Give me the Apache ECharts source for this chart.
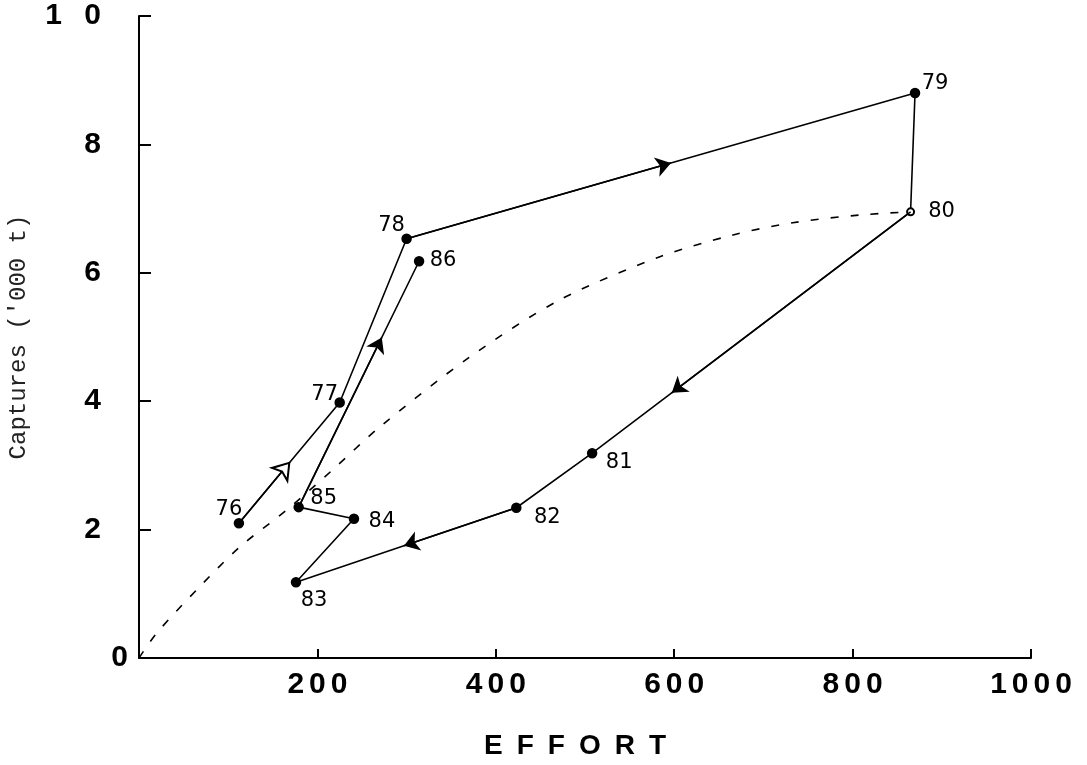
<!DOCTYPE html>
<html lang="en">
<head>
    <meta charset="UTF-8">
    <title>Captures vs Effort</title>
    <script src="https://cdn.jsdelivr.net/npm/echarts@6/dist/echarts.min.js"></script>
    <style>
        html, body { margin: 0; padding: 0; background: #fff; }
        #chart { width: 1087px; height: 765px; }
    </style>
</head>
<body>
    <div id="chart"></div>
    <script>
        // years, effort and captures ('000 t)
        var years = ['76', '77', '78', '79', '80', '81', '82', '83', '84', '85', '86'];
        var effort = [112, 225, 300, 870, 865, 508, 423, 176, 241, 179, 314];
        var captures = [2.10, 3.98, 6.53, 8.80, 6.95, 3.19, 2.34, 1.18, 2.17, 2.35, 6.18];

        // dashed equilibrium curve
        var curveEffort = [0, 20, 68, 113, 166, 217, 270, 371, 472, 584, 666, 733, 808, 865];
        var curveCaptures = [0, 0.39, 1.11, 1.73, 2.31, 2.93, 3.60, 4.69, 5.58, 6.25, 6.59, 6.78, 6.90, 6.95];

        // arrows: segment start index, fraction along the segment where the tip sits
        var arrowFrom = [0, 2, 4, 6, 9];
        var arrowAt = [0.5, 0.52, 0.75, 0.51, 0.69];

        var xTicks = [0, 200, 400, 600, 800, 1000];
        var yTicks = [0, 2, 4, 6, 8, 10];

        // label offsets (px) for each year tag
        var labelOffset = {
            '76': [-10, -14], '77': [-15, -8], '78': [-15, -13], '79': [20, -9],
            '80': [31, 0], '81': [27, 9], '82': [31, 10], '83': [18, 18],
            '84': [28, 3], '85': [25, -9], '86': [24, -1]
        };

        var labelFont = { fontFamily: 'DejaVu Sans', fontSize: 21, color: '#000' };

        var pts = years.map(function (y, i) {
            return {
                value: [effort[i], captures[i]],
                symbol: y === '80' ? 'emptyCircle' : 'circle',
                symbolSize: y === '80' ? 7 : 9,
                label: Object.assign({
                    show: true,
                    position: 'inside',
                    offset: labelOffset[y],
                    formatter: y
                }, labelFont)
            };
        });

        var curve = curveEffort.map(function (e, i) { return [e, curveCaptures[i]]; });

        var arrows = arrowFrom.map(function (i, k) {
            var a = [effort[i], captures[i]];
            var b = [effort[i + 1], captures[i + 1]];
            var t = arrowAt[k];
            return {
                coords: [a, [a[0] + (b[0] - a[0]) * t, a[1] + (b[1] - a[1]) * t]],
                symbol: ['none', k === 0 ? 'emptyArrow' : 'arrow']
            };
        });

        var spaced = function (s, sp) { return String(s).split('').join(sp); };

        var myChart = echarts.init(document.getElementById('chart'));
        var option = {
            backgroundColor: '#fff',
            animation: false,
            grid: {
                left: 139,
                right: 56,
                top: 16,
                bottom: 107,
                containLabel: false,
                outerBoundsMode: 'none'
            },
            xAxis: {
                type: 'value',
                min: 0,
                max: 1000,
                interval: 200,
                name: spaced('EFFORT', '\u2002'),
                nameLocation: 'middle',
                nameGap: 74,
                nameTextStyle: {
                    fontFamily: 'Liberation Sans',
                    fontWeight: 'bold',
                    fontSize: 28,
                    color: '#000',
                    verticalAlign: 'top',
                    padding: [0, 20, 0, 0]
                },
                splitLine: { show: false },
                axisLine: { show: true, onZero: false, lineStyle: { color: '#000', width: 2 } },
                axisTick: { show: true, inside: true, length: 9, lineStyle: { color: '#000', width: 2 } },
                axisLabel: {
                    margin: 12,
                    fontFamily: 'Liberation Sans',
                    fontWeight: 'bold',
                    fontSize: 30,
                    color: '#000',
                    formatter: function (v) {
                        return v === 0 ? '' : spaced(v, '\u2006');
                    }
                }
            },
            yAxis: {
                type: 'value',
                min: 0,
                max: 10,
                interval: 2,
                name: "Captures ('000 t)",
                nameLocation: 'middle',
                nameGap: 108,
                nameRotate: 90,
                nameMoveOverlap: false,
                nameTextStyle: {
                    fontFamily: 'Liberation Mono',
                    fontSize: 24,
                    color: '#222'
                },
                splitLine: { show: false },
                axisLine: { show: true, onZero: false, lineStyle: { color: '#000', width: 2 } },
                axisTick: { show: true, inside: true, length: 12, lineStyle: { color: '#000', width: 2 } },
                axisLabel: {
                    margin: 11,
                    color: '#000',
                    fontFamily: 'Liberation Sans',
                    fontWeight: 'bold',
                    fontSize: 30,
                    formatter: function (v) {
                        if (v === 0) return '{z|0}';
                        if (v === 10) return '{n|1\u2002\u20050}';
                        return '{n|' + v + '}';
                    },
                    rich: {
                        z: { fontFamily: 'Liberation Sans', fontWeight: 'bold', fontSize: 30, color: '#000' },
                        n: { fontFamily: 'Liberation Sans', fontWeight: 'bold', fontSize: 30, color: '#000', padding: [0, 27, 0, 0] }
                    }
                }
            },
            series: [{
                    name: 'curve',
                    type: 'line',
                    data: curve,
                    smooth: 0.3,
                    showSymbol: false,
                    silent: true,
                    lineStyle: { color: '#000', width: 1.6, type: [8, 12] }
                },
                {
                    name: 'path',
                    type: 'line',
                    data: pts,
                    z: 3,
                    itemStyle: { color: '#000', borderColor: '#000', borderWidth: 1.5 },
                    lineStyle: { color: '#000', width: 1.6 },
                    label: labelFont
                },
                {
                    name: 'arrows',
                    type: 'lines',
                    coordinateSystem: 'cartesian2d',
                    z: 4,
                    symbolSize: 15,
                    lineStyle: { color: '#000', width: 1.6, opacity: 1 },
                    itemStyle: { color: '#000' },
                    data: arrows
                }
            ]
        };
        myChart.setOption(option);
    </script>
</body>
</html>
